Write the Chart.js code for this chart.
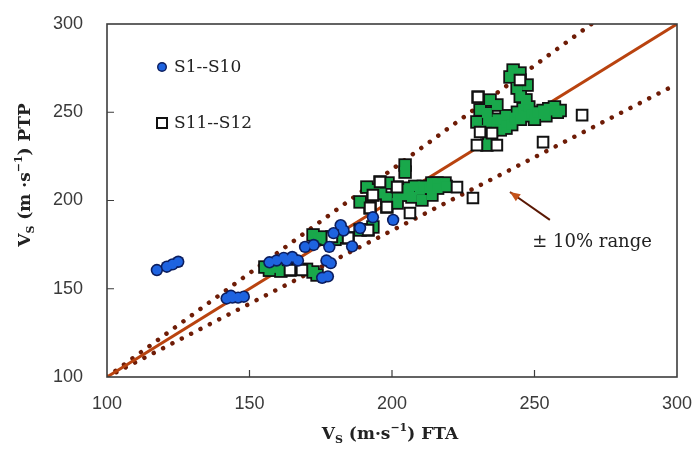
<!DOCTYPE html>
<html>
<head>
<meta charset="utf-8">
<script src="https://cdn.jsdelivr.net/npm/chart.js@4.4.1/dist/chart.umd.min.js"></script>
<style>
  html, body { margin: 0; padding: 0; background: #fff; }
  #wrap { width: 700px; height: 457px; }
</style>
</head>
<body>
<div id="wrap"><canvas id="chart"></canvas></div>
<script>
// === Vs PTP vs Vs FTA scatter ===

const X_TICKS = [100, 150, 200, 250, 300];
const Y_TICKS = [100, 150, 200, 250, 300];

// S1--S10 (blue circles)
const blueX = [117.5, 121, 123, 125, 142, 144, 146, 148, 143.5, 157, 159.5, 162, 165, 163, 167,
  169.5, 172.5, 178, 177, 178.5, 175.5, 177.5, 179.5, 182, 183, 186, 188.8, 193.3, 200.4];
const blueY = [160.6, 162.5, 163.8, 165.3, 144.5, 145, 145, 145.5, 146, 165, 166, 167.5, 168, 166, 166,
  173.7, 174.8, 173.7, 166, 164.5, 156.2, 157, 181.5, 186, 183, 174, 184.4, 190.5, 189];

// S11--S12, squares that show filled green
const greenX = [155.4, 157, 159.6, 161, 164.2, 166, 170, 172.3, 173.7,
  172.3, 174, 175.4, 177, 178.9, 180, 181.8, 184.6, 188.8, 191.6, 193.3,
  188.8, 191.2, 192.3, 193.3, 194, 195.8, 196, 198.2, 198.2, 198.6, 201.8, 201.8, 202, 203, 204.6, 204.6,
  205, 206, 207, 208, 209.8, 210.5, 211, 213, 214, 214, 215.8, 216, 218.6, 219,
  229.8, 230.2, 230.9, 232, 233.3, 233.3, 233.7, 234, 234.4, 236.8, 236.8, 241.4, 242.5, 243.9, 244.9, 244.9, 247.4,
  237, 238, 240, 240, 240, 242, 243, 244, 245, 246, 247, 248, 249, 250, 251, 253, 254, 255, 257, 258, 259, 245, 247, 253, 257];
const greenY = [162.3, 160.5, 161.8, 160, 160.6, 161, 161, 159.5, 157.8,
  180.5, 178.5, 179.3, 178, 179.3, 178, 179.3, 178.8, 183.3, 183.3, 185,
  199.2, 207.6, 195.8, 203.1, 206, 210.5, 204, 201.4, 196.3, 209.9, 207.6, 198.6, 204, 206, 216.1, 220.1,
  203, 207, 202, 208, 206, 200.3, 208, 207, 203.1, 209.9, 209.9, 207, 209.9, 208,
  244.5, 258.6, 251.3, 240, 231.4, 249.6, 244.5, 236, 256.9, 254.1, 243.9, 270, 273.9, 263.7, 272.2, 268.3, 265.4,
  246, 240, 241, 244, 248, 243, 247, 250, 246, 252, 248, 253, 249, 246, 250, 251, 248, 252, 253, 250, 251, 259, 257, 249, 251];

// S11--S12, open squares
const openX = [164.2, 168.4, 178.9, 184.6, 191.6, 192.3, 193.3, 195.8, 198.2, 201.8, 206.3, 222.8, 228.4,
  229.8, 230.2, 230.9, 235.1, 236.8, 244.9, 253, 266.7];
const openY = [160.6, 160.6, 179.3, 178.8, 183.3, 195.8, 203.1, 210.5, 196.3, 207.6, 192.9, 207.6, 201.4,
  231.4, 258.6, 238.8, 238.2, 231.4, 268.3, 233.1, 248.4];

// reference lines (x, y pairs)
const lineOneToOne = [[100, 100], [300, 300]];
const lineUpper = [[100, 100], [270, 300]];
const lineLower = [[100, 100], [300, 266]];

const COLORS = {
  blue: '#1e63e0',
  navy: '#0b1d5e',
  green: '#19a84b',
  black: '#111111',
  line: '#b9430f',
  dots: '#6e1c06',
  text: '#3a3a3a',
};

function pts(xs, ys) {
  return xs.map((x, i) => ({ x, y: ys[i] }));
}
function pairs(arr) {
  return arr.map(p => ({ x: p[0], y: p[1] }));
}

// frame, inward ticks, legend, axis titles, annotation
const decorPlugin = {
  id: 'decor',
  afterDraw(chart) {
    const { ctx, chartArea: a, scales } = chart;
    const sx = scales.x, sy = scales.y;
    ctx.save();

    // frame
    ctx.strokeStyle = '#3d3d3d';
    ctx.lineWidth = 1.6;
    ctx.strokeRect(a.left, a.top, a.right - a.left, a.bottom - a.top);

    // inward ticks
    ctx.lineWidth = 1.2;
    ctx.beginPath();
    X_TICKS.slice(1, -1).forEach(v => {
      const px = sx.getPixelForValue(v);
      ctx.moveTo(px, a.bottom);
      ctx.lineTo(px, a.bottom - 7);
    });
    Y_TICKS.slice(1, -1).forEach(v => {
      const py = sy.getPixelForValue(v);
      ctx.moveTo(a.left, py);
      ctx.lineTo(a.left + 7, py);
    });
    ctx.stroke();

    // legend
    ctx.font = '17px "DejaVu Serif"';
    ctx.textBaseline = 'middle';
    ctx.textAlign = 'left';
    ctx.beginPath();
    ctx.arc(162, 67, 5, 0, Math.PI * 2);
    ctx.fillStyle = COLORS.navy;
    ctx.fill();
    ctx.beginPath();
    ctx.arc(162, 67, 3.6, 0, Math.PI * 2);
    ctx.fillStyle = COLORS.blue;
    ctx.fill();
    ctx.fillStyle = '#222';
    ctx.fillText('S1--S10', 174, 68);
    ctx.lineWidth = 2;
    ctx.strokeStyle = COLORS.black;
    ctx.strokeRect(157, 118, 10, 10);
    ctx.fillText('S11--S12', 174, 124);

    // annotation arrow
    const tailX = sx.getPixelForValue(255.4), tailY = sy.getPixelForValue(189);
    const headX = sx.getPixelForValue(241.4), headY = sy.getPixelForValue(204.8);
    ctx.strokeStyle = '#5a1804';
    ctx.lineWidth = 2;
    ctx.beginPath();
    ctx.moveTo(tailX, tailY);
    ctx.lineTo(headX, headY);
    ctx.stroke();
    const ang = Math.atan2(headY - tailY, headX - tailX);
    ctx.fillStyle = '#c4521a';
    ctx.beginPath();
    ctx.moveTo(headX, headY);
    ctx.lineTo(headX - 11 * Math.cos(ang - 0.4), headY - 11 * Math.sin(ang - 0.4));
    ctx.lineTo(headX - 11 * Math.cos(ang + 0.4), headY - 11 * Math.sin(ang + 0.4));
    ctx.closePath();
    ctx.fill();

    ctx.fillStyle = '#222';
    ctx.font = '18px "DejaVu Serif"';
    ctx.textAlign = 'center';
    ctx.fillText('\u00B1 10% range', sx.getPixelForValue(270.2), sy.getPixelForValue(176.5));

    // axis titles with sub/superscripts
    const drawTitle = (parts, cx, cy, rotate) => {
      ctx.save();
      ctx.translate(cx, cy);
      if (rotate) ctx.rotate(-Math.PI / 2);
      ctx.textAlign = 'left';
      ctx.textBaseline = 'alphabetic';
      let w = 0;
      parts.forEach(p => { ctx.font = p.font; w += ctx.measureText(p.t).width; });
      let x = -w / 2;
      parts.forEach(p => {
        ctx.font = p.font;
        ctx.fillStyle = '#222';
        ctx.fillText(p.t, x, 6 + (p.dy || 0));
        x += ctx.measureText(p.t).width;
      });
      ctx.restore();
    };
    const big = 'bold 17px "DejaVu Serif"';
    const small = 'bold 11px "DejaVu Serif"';
    drawTitle([
      { t: 'V', font: big }, { t: 'S', font: small, dy: 4 },
      { t: ' (m\u00B7s', font: big }, { t: '\u22121', font: small, dy: -8 },
      { t: ') FTA', font: big },
    ], 390, 433, false);
    drawTitle([
      { t: 'V', font: big }, { t: 'S', font: small, dy: 4 },
      { t: ' (m \u00B7s', font: big }, { t: '\u22121', font: small, dy: -8 },
      { t: ') PTP', font: big },
    ], 24, 175, true);

    ctx.restore();
  },
};

const ctx = document.getElementById('chart').getContext('2d');

new Chart(ctx, {
  type: 'scatter',
  data: {
    datasets: [
      // blue fill (top)
      { data: pts(blueX, blueY), pointStyle: 'circle', pointRadius: 4.6, backgroundColor: COLORS.blue, borderWidth: 0, order: 1 },
      { data: pts(blueX, blueY), pointStyle: 'circle', pointRadius: 6.2, backgroundColor: COLORS.navy, borderWidth: 0, order: 2 },
      // open squares
      { data: pts(openX, openY), pointStyle: 'rect', pointRadius: 7.5, backgroundColor: '#ffffff', borderColor: COLORS.black, borderWidth: 2, order: 3 },
      // green squares: fill over a black outline layer
      { data: pts(greenX, greenY), pointStyle: 'rect', pointRadius: 7, backgroundColor: COLORS.green, borderWidth: 0, order: 4 },
      { data: pts(greenX, greenY), pointStyle: 'rect', pointRadius: 9.5, backgroundColor: COLORS.black, borderWidth: 0, order: 5 },
      // reference lines
      { type: 'line', data: pairs(lineOneToOne), borderColor: COLORS.line, borderWidth: 3, pointRadius: 0, order: 6 },
      { type: 'line', data: pairs(lineUpper), borderColor: COLORS.dots, borderWidth: 4.5, borderDash: [0.01, 10.5], borderCapStyle: 'round', pointRadius: 0, order: 7 },
      { type: 'line', data: pairs(lineLower), borderColor: COLORS.dots, borderWidth: 4.5, borderDash: [0.01, 10.5], borderCapStyle: 'round', pointRadius: 0, order: 8 },
    ],
  },
  options: {
    responsive: true,
    maintainAspectRatio: false,
    animation: false,
    layout: { padding: { left: 0, right: 23, top: 24, bottom: 0 } },
    plugins: {
      legend: { display: false },
      tooltip: { enabled: false },
    },
    scales: {
      x: {
        type: 'linear',
        min: 100,
        max: 300,
        afterBuildTicks: s => { s.ticks = X_TICKS.map(v => ({ value: v })); },
        afterFit: s => { s.height = 80; s.paddingLeft = 0; s.paddingRight = 0; },
        grid: { display: false, drawTicks: false },
        border: { display: false },
        ticks: { color: COLORS.text, font: { family: 'Liberation Sans', size: 18 }, padding: 16, maxRotation: 0 },
      },
      y: {
        type: 'linear',
        min: 100,
        max: 300,
        afterBuildTicks: s => { s.ticks = Y_TICKS.map(v => ({ value: v })); },
        afterFit: s => { s.width = 107; s.paddingTop = 0; s.paddingBottom = 0; },
        grid: { display: false, drawTicks: false },
        border: { display: false },
        ticks: { color: COLORS.text, font: { family: 'Liberation Sans', size: 18 }, padding: 24 },
      },
    },
  },
  plugins: [decorPlugin],
});
</script>
</body>
</html>
